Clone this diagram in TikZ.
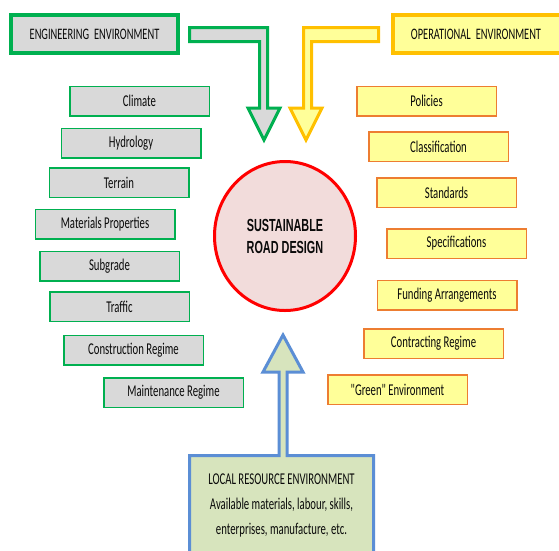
\documentclass[tikz,border=0pt]{standalone}
\usepackage{fontspec}
\setmainfont{Carlito}
\newfontfamily\condfont[FakeStretch=0.65]{Carlito}
\newfontfamily\roadfont[FakeStretch=0.62]{Liberation Sans Bold}
\usetikzlibrary{shapes.geometric}
\definecolor{egreen}{RGB}{0,176,80}
\definecolor{lgray}{RGB}{217,217,217}
\definecolor{ogold}{RGB}{255,192,0}
\definecolor{lyellow}{RGB}{255,255,153}
\definecolor{oorange}{RGB}{237,125,49}
\definecolor{cred}{RGB}{255,0,0}
\definecolor{cpink}{RGB}{242,220,219}
\definecolor{lblue}{RGB}{91,142,213}
\definecolor{lolive}{RGB}{215,228,189}
\definecolor{txt}{RGB}{10,10,10}
\tikzset{
  lbl/.style={font=\condfont\fontsize{16.5}{19}\selectfont, text=txt, inner sep=0pt,
    minimum width=139.5pt, minimum height=29.5pt, line width=1.5pt},
  engbox/.style={lbl, draw=egreen, fill=lgray},
  opbox/.style={lbl, draw=oorange, fill=lyellow},
  headbox/.style={font=\condfont\fontsize{16}{19}\selectfont, text=txt, inner sep=0pt,
    minimum height=38pt, line width=4pt},
  blockarrow/.style={line width=3pt, line join=miter}
}
\begin{document}
\begin{tikzpicture}[x=1pt,y=-1pt]
\useasboundingbox (0,0) rectangle (559,550);
\fill[white] (0,0) rectangle (559,550);
% header boxes
\node[headbox, draw=egreen, fill=lgray, minimum width=167pt] (eng) at (94.5,34) {ENGINEERING\hspace{5pt}ENVIRONMENT};
\draw[line width=4pt, draw=ogold, fill=lyellow] (393,15) rectangle (565,53);
\node[font=\condfont\fontsize{16}{19}\selectfont, text=txt, inner sep=0pt] (op) at (476,34) {OPERATIONAL\hspace{5pt}ENVIRONMENT};
% block arrows
\draw[blockarrow, draw=egreen, fill=lgray]
  (189.5,27.5) -- (267.5,27.5) -- (267.5,108) -- (280,108) -- (264,140) -- (248,108)
  -- (259.5,108) -- (259.5,41.5) -- (189.5,41.5) -- cycle;
\draw[blockarrow, draw=ogold, fill=lyellow]
  (378.5,27.5) -- (303.5,27.5) -- (303.5,108) -- (290,108) -- (306,140) -- (322,108)
  -- (311.5,108) -- (311.5,41.5) -- (378.5,41.5) -- cycle;
\draw[blockarrow, draw=lblue, fill=lolive]
  (189.5,560) -- (189.5,455.5) -- (279,455.5) -- (279,372) -- (263,372) -- (283,335)
  -- (303,372) -- (287,372) -- (287,455.5) -- (373.5,455.5) -- (373.5,560);
% centre
\node[ellipse, draw=cred, fill=cpink, line width=3pt, minimum width=141pt, minimum height=149pt,
  inner sep=0pt, align=center, text=txt,
  font=\roadfont\fontsize{17.5}{22}\selectfont] (core) at (285,236) {SUSTAINABLE\\ROAD DESIGN};
% engineering items
\node[engbox] (climate) at (139.5,101) {Climate};
\node[engbox] (hydro) at (131,143) {Hydrology};
\node[engbox] (terrain) at (119,182.5) {Terrain};
\node[engbox] (mat) at (105,224) {Materials Properties};
\node[engbox] (subgrade) at (109.5,266) {Subgrade};
\node[engbox] (traffic) at (119.5,306.5) {Traffic};
\node[engbox] (constr) at (133.5,350) {Construction Regime};
\node[engbox] (maint) at (173.5,392.5) {Maintenance Regime};
% operational items
\node[opbox] (pol) at (426.5,101) {Policies};
\node[opbox] (class) at (438.5,146.5) {Classification};
\node[opbox] (stand) at (446.5,192.5) {Standards};
\node[opbox] (spec) at (456.5,243.5) {Specifications};
\node[opbox] (fund) at (447,295) {Funding Arrangements};
\node[opbox] (contr) at (433.5,343.5) {Contracting Regime};
\node[opbox] (green) at (397.5,389.5) {"Green" Environment};
% local resources
\node[align=center, text=txt, inner sep=0pt,
  font=\condfont\fontsize{16.5}{25}\selectfont] (local) at (281.5,505)
  {LOCAL RESOURCE ENVIRONMENT\\Available materials, labour, skills,\\enterprises, manufacture, etc.};
\end{tikzpicture}
\end{document}
